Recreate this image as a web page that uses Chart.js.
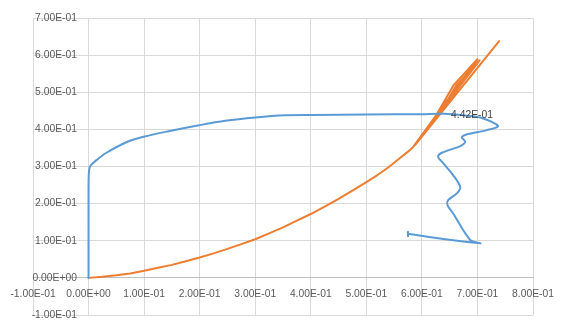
<!DOCTYPE html>
<html><head><meta charset="utf-8">
<script src="https://cdn.jsdelivr.net/npm/chart.js@4"></script>
<style>html,body{margin:0;padding:0;background:#fff;} canvas{display:block;}</style>
</head><body>
<canvas id="c" width="565" height="329"></canvas>
<script>
const blueX = [0, 0, 0.0005, 0.002, 0.005, 0.015, 0.03, 0.066, 0.099, 0.144, 0.199, 0.246, 0.3, 0.354, 0.4, 0.5, 0.6, 0.64, 0.68, 0.705, 0.737, 0.717, 0.678, 0.672, 0.678, 0.669, 0.636, 0.629, 0.636, 0.656, 0.669, 0.663, 0.647, 0.646, 0.656, 0.687, 0.705, 0.575, 0.575, 0.575];
const blueY = [0, 0.25, 0.28, 0.297, 0.305, 0.318, 0.335, 0.364, 0.380, 0.395, 0.411, 0.423, 0.432, 0.438, 0.439, 0.440, 0.441, 0.442, 0.437, 0.432, 0.409, 0.398, 0.385, 0.378, 0.367, 0.355, 0.337, 0.326, 0.313, 0.277, 0.245, 0.2275, 0.209, 0.196, 0.174, 0.102, 0.093, 0.119, 0.124, 0.112];
const orangeX = [0, 0.025, 0.05, 0.075, 0.1, 0.125, 0.15, 0.175, 0.2, 0.225, 0.25, 0.275, 0.3, 0.325, 0.35, 0.375, 0.4, 0.425, 0.45, 0.475, 0.5, 0.52, 0.54, 0.56, 0.575, 0.584,
  0.700, 0.657, 0.626, 0.586,
  0.704, 0.662, 0.631, 0.588,
  0.739];
const orangeY = [0, 0.003, 0.007, 0.012, 0.019, 0.027, 0.035, 0.045, 0.055, 0.066, 0.078, 0.091, 0.104, 0.120, 0.136, 0.154, 0.172, 0.192, 0.213, 0.235, 0.258, 0.277, 0.298, 0.322, 0.340, 0.352,
  0.589, 0.519, 0.4385, 0.356,
  0.586, 0.519, 0.4385, 0.358,
  0.638];
const xTicks = [-0.1, 0, 0.1, 0.2, 0.3, 0.4, 0.5, 0.6, 0.7, 0.8];
const yTicks = [-0.1, 0, 0.1, 0.2, 0.3, 0.4, 0.5, 0.6, 0.7];
const labelIndex = 17;
const labelText = '4.42E-01';

function fmtE(v) {
  if (Math.abs(v) < 1e-12) v = 0;
  const s = Number(v).toExponential(2);
  const parts = s.split('e');
  const sign = parts[1][0] === '-' ? '-' : '+';
  let d = parts[1].replace(/[+-]/, '');
  if (d.length < 2) d = '0' + d;
  return parts[0] + 'E' + sign + d;
}
function pts(xs, ys) { return xs.map((x, i) => ({x: x, y: ys[i]})); }

const tickFont = {family: "'Liberation Sans', Arial, sans-serif", size: 10.3};
const gridColor = '#d9d9d9';

const dataLabelPlugin = {
  id: 'dataLabel',
  afterDatasetsDraw(chart) {
    const el = chart.getDatasetMeta(0).data[labelIndex];
    if (!el) return;
    const ctx = chart.ctx;
    ctx.save();
    ctx.font = "10.3px 'Liberation Sans', Arial, sans-serif";
    ctx.fillStyle = '#404040';
    ctx.textAlign = 'left';
    ctx.textBaseline = 'middle';
    ctx.fillText(labelText, el.x + 7, el.y + 1);
    ctx.restore();
  }
};

new Chart(document.getElementById('c'), {
  type: 'scatter',
  data: {
    datasets: [
      {data: pts(blueX, blueY), showLine: true, borderColor: '#5B9BD5', borderWidth: 2, pointRadius: 0, tension: 0.3, borderJoinStyle: 'round', borderCapStyle: 'round'},
      {data: pts(orangeX, orangeY), showLine: true, borderColor: '#ED7D31', borderWidth: 2, pointRadius: 0, tension: 0, borderJoinStyle: 'round', borderCapStyle: 'round'}
    ]
  },
  options: {
    responsive: false,
    animation: false,
    devicePixelRatio: 1,
    layout: {padding: {left: 33, right: 32, top: 18, bottom: 14}},
    plugins: {legend: {display: false}, tooltip: {enabled: false}},
    scales: {
      x: {
        type: 'linear', min: -0.1, max: 0.8, position: {y: 0},
        afterBuildTicks: s => { s.ticks = xTicks.map(v => ({value: v})); },
        grid: {color: gridColor, lineWidth: 1, drawTicks: false},
        border: {color: '#bfbfbf', width: 1},
        ticks: {font: tickFont, color: '#595959', padding: 10, maxRotation: 0, autoSkip: false, callback: v => fmtE(v)}
      },
      y: {
        type: 'linear', min: -0.1, max: 0.7, position: {x: -0.021},
        afterBuildTicks: s => { s.ticks = yTicks.map(v => ({value: v})); },
        grid: {color: gridColor, lineWidth: 1, drawTicks: false},
        border: {display: false},
        ticks: {font: tickFont, color: '#595959', padding: 0, autoSkip: false, callback: v => fmtE(v)}
      }
    }
  },
  plugins: [dataLabelPlugin]
});
</script>
</body></html>
